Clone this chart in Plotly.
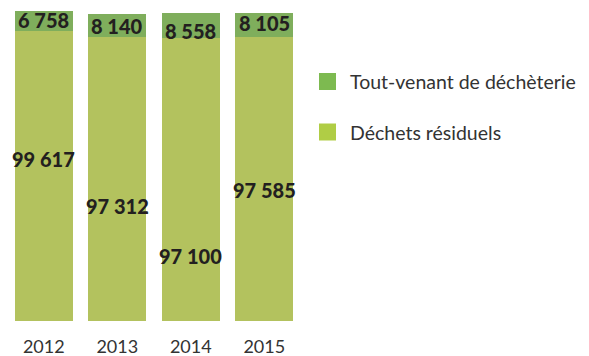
import plotly.graph_objects as go

# Tonnages per year
years = ["2012", "2013", "2014", "2015"]
residuels = [99617, 97312, 97100, 97585]
tout_venant = [6758, 8140, 8558, 8105]

# Vertical anchors (tonnage units) for the value labels
label_y_residuels = [55600, 39500, 22300, 45000]
label_y_tout_venant = [103300, 101200, 99500, 102300]

DARK = "#7fae5c"
LIGHT = "#b3c25e"
SWATCH_DARK = "#7dba50"
SWATCH_LIGHT = "#b0cd45"
TEXT = "#231f20"
FONT = "Lato"

W, H = 589, 356
L, R, T, B = 7, 288, 11, 35

# one slot per year on a plain numeric axis
pos = list(range(len(years)))


def fmt(v):
    return f"{v:,}".replace(",", " ")


value_font = dict(family=FONT, size=20, color=TEXT, weight=900)

fig = go.Figure()
fig.add_trace(go.Bar(x=pos, y=residuels, marker=dict(color=LIGHT, line=dict(width=0)),
                     name="Déchets résiduels", showlegend=False))
fig.add_trace(go.Bar(x=pos, y=tout_venant, marker=dict(color=DARK, line=dict(width=0)),
                     name="Tout-venant de déchèterie", showlegend=False))

annotations = []
for p, v, ly in zip(pos, residuels, label_y_residuels):
    annotations.append(dict(x=p, y=ly, xref="x", yref="y", text=fmt(v),
                            showarrow=False, font=value_font))
for p, v, ly in zip(pos, tout_venant, label_y_tout_venant):
    annotations.append(dict(x=p, y=ly, xref="x", yref="y", text=fmt(v),
                            showarrow=False, font=value_font))

# Legend drawn as swatches + text to the right of the bars
pw, ph = W - L - R, H - T - B


def px_x(px):
    return (px - L) / pw


def px_y(py):
    return (H - B - py) / ph


legend_items = [("Tout-venant de déchèterie", SWATCH_DARK, 81.5),
                ("Déchets résiduels", SWATCH_LIGHT, 132)]
shapes = []
for label, col, cy in legend_items:
    shapes.append(dict(type="rect", xref="paper", yref="paper",
                       x0=px_x(319), x1=px_x(336), y0=px_y(cy + 8.5), y1=px_y(cy - 8.5),
                       fillcolor=col, line=dict(width=0)))
    annotations.append(dict(x=px_x(348), y=px_y(cy), xref="paper", yref="paper",
                            xanchor="left", yanchor="middle", text=label, showarrow=False,
                            font=dict(family=FONT, size=19.5, color="#333333")))

fig.update_layout(
    width=W, height=H, barmode="stack", bargap=0.21,
    margin=dict(l=L, r=R, t=T, b=B, pad=0, autoexpand=False),
    paper_bgcolor="white", plot_bgcolor="white",
    xaxis=dict(range=[-0.5, len(years) - 0.5], tickmode="array", tickvals=pos, ticktext=years,
               ticks="", ticklabelstandoff=13, automargin=False,
               tickfont=dict(family=FONT, size=18, color="#333333"),
               showgrid=False, zeroline=False, showline=False),
    yaxis=dict(range=[0, 106375], showticklabels=False, showgrid=False, zeroline=False,
               showline=False, automargin=False),
    annotations=annotations, shapes=shapes, showlegend=False,
)

fig.write_html("out.html")
